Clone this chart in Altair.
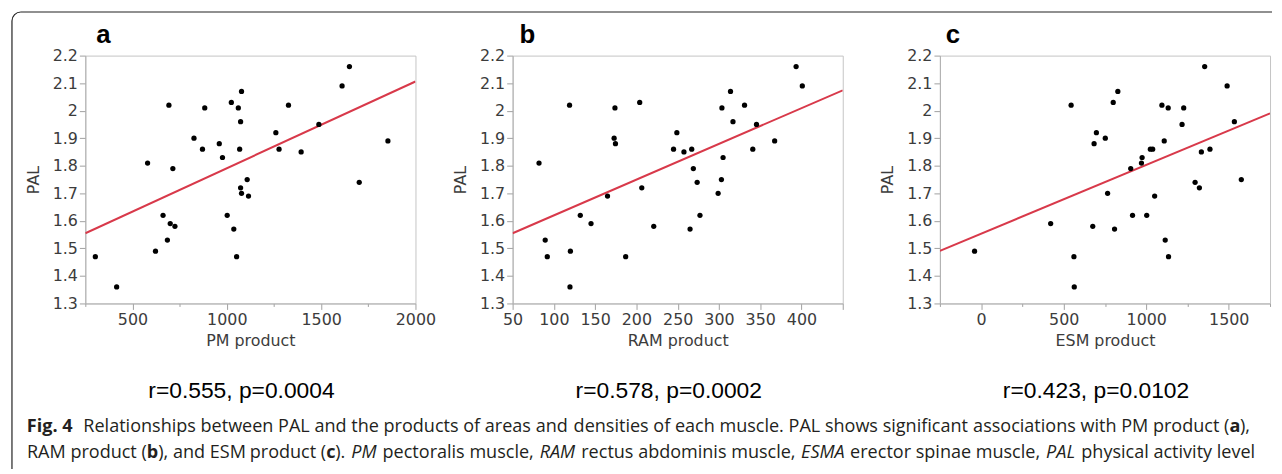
import altair as alt
import pandas as pd

# ---------------- data ----------------
pal_ticks = [1.3, 1.4, 1.5, 1.6, 1.7, 1.8, 1.9, 2.0, 2.1, 2.2]

pm_product = [303, 416, 580, 622, 662, 685, 693, 700, 714, 725, 826, 871, 883, 960, 977, 1002,
              1024, 1037, 1052, 1061, 1068, 1073, 1073, 1078, 1078, 1108, 1115, 1260, 1277, 1327,
              1394, 1488, 1611, 1650, 1702, 1854]
pm_pal = [1.47, 1.36, 1.81, 1.49, 1.62, 1.53, 2.02, 1.59, 1.79, 1.58, 1.90, 1.86, 2.01, 1.88, 1.83, 1.62,
          2.03, 1.57, 1.47, 2.01, 1.86, 1.96, 1.72, 2.07, 1.70, 1.75, 1.69, 1.92, 1.86, 2.02,
          1.85, 1.95, 2.09, 2.16, 1.74, 1.89]
pm_fit_x = [250, 2000]
pm_fit_y = [1.555, 2.106]
pm_ticks = [250, 500, 750, 1000, 1250, 1500, 1750, 2000]
pm_labeled = [500, 1000, 1500, 2000]

ram_product = [82, 89.5, 92, 119, 120, 119.5, 132, 145, 165, 173, 174, 174.6, 187, 204, 206.5, 221,
               245, 249, 257.6, 265, 267, 269, 273.6, 277, 299, 303, 303.6, 305, 314, 317, 331, 341,
               345.5, 367.5, 393.5, 401]
ram_pal = [1.81, 1.53, 1.47, 2.02, 1.49, 1.36, 1.62, 1.59, 1.69, 1.90, 2.01, 1.88, 1.47, 2.03, 1.72, 1.58,
           1.86, 1.92, 1.85, 1.57, 1.86, 1.79, 1.74, 1.62, 1.70, 1.75, 2.01, 1.83, 2.07, 1.96, 2.02, 1.86,
           1.95, 1.89, 2.16, 2.09]
ram_fit_x = [50, 450]
ram_fit_y = [1.555, 2.074]
ram_ticks = [50, 100, 150, 200, 250, 300, 350, 400, 450]
ram_labeled = [50, 100, 150, 200, 250, 300, 350, 400]

esm_product = [-40, 421, 545, 562, 564, 676, 684, 698, 752, 766, 800, 808, 828, 906, 917, 971, 975,
               1003, 1025, 1039, 1051, 1095, 1109, 1115, 1133, 1135, 1217, 1227, 1296, 1322, 1334,
               1354, 1386, 1490, 1534, 1576]
esm_pal = [1.49, 1.59, 2.02, 1.47, 1.36, 1.58, 1.88, 1.92, 1.90, 1.70, 2.03, 1.57, 2.07, 1.79, 1.62, 1.81,
           1.83, 1.62, 1.86, 1.86, 1.69, 2.02, 1.89, 1.53, 2.01, 1.47, 1.95, 2.01, 1.74, 1.72, 1.85,
           2.16, 1.86, 2.09, 1.96, 1.75]
esm_fit_x = [-250, 1750]
esm_fit_y = [1.491, 1.990]
esm_ticks = [-250, 0, 250, 500, 750, 1000, 1250, 1500, 1750]
esm_labeled = [0, 500, 1000, 1500]

panel_letters = ["a", "b", "c"]
x_titles = ["PM product", "RAM product", "ESM product"]
stats_texts = ["r=0.555,  p=0.0004", "r=0.578,  p=0.0002", "r=0.423,  p=0.0102"]

caption_texts = [
    "Fig. 4",
    "Relationships between PAL and the products of areas and",
    "densities of each muscle. PAL shows significant",
    "associations with PM product (",
    "a", "),",
    "RAM product (", "b", "), and ESM", "product (", "c", ").",
    "PM", "pectoralis muscle,", "RAM", "rectus abdominis muscle,",
    "ESMA", "erector spinae muscle,", "PAL", "physical activity level",
]
caption_styles = ["bold", "normal", "normal", "normal", "bold", "normal",
                  "normal", "bold", "normal", "normal", "bold", "normal",
                  "italic", "normal", "italic", "normal",
                  "italic", "normal", "italic", "normal"]
caption_lines = [0, 0, 0, 0, 0, 0,
                 1, 1, 1, 1, 1, 1, 1, 1, 1, 1, 1, 1, 1, 1]

# ---------------- layout (pixels) ----------------
W, H = 333, 250
ORIGIN_X, ORIGIN_Y = 84, 55          # page position of panel a plot area
caption_page_x = [25, 82, 775.4, 1238, 1238, 1248.7,
                  146, 146, 157.6, 326.9, 326.9, 336.0,
                  365.05, 460.05, 560.2, 692.3, 827.95, 951.25, 1067.7, 1264]
caption_align = ["left", "left", "center", "right", "left", "left",
                 "right", "left", "left", "right", "left", "left",
                 "center", "center", "center", "center", "center", "center", "center", "right"]
caption_base_y = [435, 461]
AXIS_FONT = "DejaVu Sans"
TEXT_COLOR = "#3c3c3c"
CAPTION_FONT = "Open Sans"
CAPTION_SIZE = 18.2
FRAME_COLOR = "#222222"


def make_panel(xs, ys, fit_x, fit_y, domain, ticks, labeled, minor, xtitle,
               letter, letter_dx, stats, extras=()):
    pts = pd.DataFrame({"x": xs, "PAL": ys})
    fit = pd.DataFrame({"x": fit_x, "PAL": fit_y})
    test = " || ".join(f"datum.value == {v}" for v in labeled)
    tick_size = {"condition": {"test": test, "value": 6}, "value": 3} if minor else 6
    xaxis = alt.Axis(values=ticks, format="d", labelExpr=f"({test}) ? datum.label : ''",
                     tickSize=tick_size, grid=False, labelPadding=2, titlePadding=5,
                     labelFlush=False, labelOverlap=False)
    yaxis = alt.Axis(values=pal_ticks, format=".1~f", tickSize=6, grid=False,
                     labelPadding=2, titlePadding=11, labelOverlap=False, labelFlush=False)
    enc_x = alt.X("x:Q", scale=alt.Scale(domain=domain, nice=False, zero=False),
                  axis=xaxis, title=xtitle)
    enc_y = alt.Y("PAL:Q", scale=alt.Scale(domain=[1.3, 2.2], nice=False, zero=False),
                  axis=yaxis, title="PAL")
    line = alt.Chart(fit).mark_line(color="#d8394a", strokeWidth=2, clip=True).encode(
        x=enc_x, y=enc_y)
    points = alt.Chart(pts).mark_circle(size=28, color="black", opacity=1).encode(
        x=enc_x, y=enc_y)
    letter_mark = alt.Chart(pd.DataFrame({"t": [letter]})).mark_text(
        font="Liberation Sans", fontSize=26, fontWeight="bold", align="left",
        baseline="alphabetic", color="black").encode(
        x=alt.value(letter_dx), y=alt.value(-13), text="t:N")
    stats_mark = alt.Chart(pd.DataFrame({"t": [stats]})).mark_text(
        font="Liberation Sans", fontSize=23, align="center", baseline="alphabetic",
        color="black").encode(x=alt.value(W / 2 - 9), y=alt.value(400 - ORIGIN_Y), text="t:N")
    layers = [line, points, letter_mark, stats_mark] + list(extras)
    return alt.layer(*layers).properties(width=W, height=H)


one = pd.DataFrame({"k": [0]})
extras = []
# figure frame (top edge, left edge and rounded corner), in panel a's pixel space
extras.append(alt.Chart(one).mark_rule(color=FRAME_COLOR, strokeWidth=1.2).encode(
    x=alt.value(19 - ORIGIN_X), x2=alt.value(1281 - ORIGIN_X), y=alt.value(11 - ORIGIN_Y)))
extras.append(alt.Chart(one).mark_rule(color=FRAME_COLOR, strokeWidth=1.2).encode(
    x=alt.value(10 - ORIGIN_X), y=alt.value(20 - ORIGIN_Y), y2=alt.value(472 - ORIGIN_Y)))
extras.append(alt.Chart(one).mark_arc(
    color=FRAME_COLOR, innerRadius=8.4, outerRadius=9.6, theta=4.71239, theta2=6.28319).encode(
    x=alt.value(19 - ORIGIN_X), y=alt.value(20 - ORIGIN_Y)))
for txt, sty, ln, px, al in zip(caption_texts, caption_styles, caption_lines,
                                caption_page_x, caption_align):
    kw = dict(font=CAPTION_FONT, fontSize=CAPTION_SIZE, align=al,
              baseline="alphabetic", color="#231f20")
    if sty == "bold":
        kw["fontWeight"] = "bold"
    elif sty == "italic":
        kw["fontStyle"] = "italic"
    extras.append(alt.Chart(pd.DataFrame({"t": [txt]})).mark_text(**kw).encode(
        x=alt.value(px - ORIGIN_X), y=alt.value(caption_base_y[ln] - ORIGIN_Y), text="t:N"))

pa = make_panel(pm_product, pm_pal, pm_fit_x, pm_fit_y, [250, 2000], pm_ticks, pm_labeled, True,
                x_titles[0], panel_letters[0], 11, stats_texts[0], extras)
pb = make_panel(ram_product, ram_pal, ram_fit_x, ram_fit_y, [50, 450], ram_ticks, ram_labeled, False,
                x_titles[1], panel_letters[1], 7, stats_texts[1])
pc = make_panel(esm_product, esm_pal, esm_fit_x, esm_fit_y, [-250, 1750], esm_ticks, esm_labeled, True,
                x_titles[2], panel_letters[2], 6, stats_texts[2])

chart = alt.hconcat(pa, pb, pc, spacing=98, bounds="flush").properties(
    padding={"left": 2, "top": 0, "right": 0, "bottom": 0},
    background="white",
).configure_view(stroke="#c4c4c4", strokeWidth=1).configure_axis(
    labelFont=AXIS_FONT, titleFont=AXIS_FONT, labelFontSize=16, titleFontSize=16,
    titleFontWeight="normal", labelColor=TEXT_COLOR, titleColor=TEXT_COLOR,
    domainColor="#b0b0b0", tickColor="#a0a0a0",
)

chart.save("out.html", embed_options={"renderer": "svg", "actions": False})
